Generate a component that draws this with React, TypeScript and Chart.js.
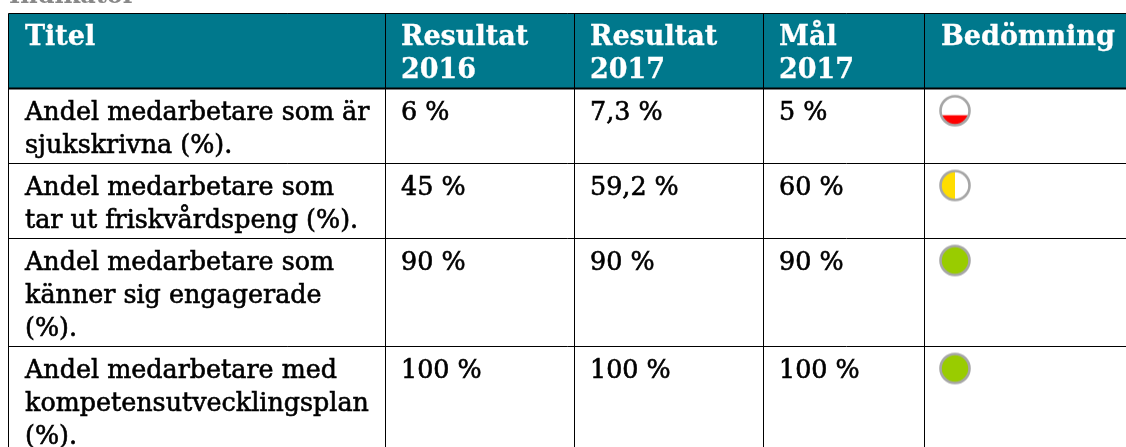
import { useEffect, useRef } from "react";
import { Chart, registerables } from "chart.js";

Chart.register(...registerables);

const caption = "Indikator";
const headers = [["Titel"], ["Resultat", "2016"], ["Resultat", "2017"], ["Mål", "2017"], ["Bedömning"]];
const titles = [
  ["Andel medarbetare som är", "sjukskrivna (%)."],
  ["Andel medarbetare som", "tar ut friskvårdspeng (%)."],
  ["Andel medarbetare som", "känner sig engagerade", "(%)."],
  ["Andel medarbetare med", "kompetensutvecklingsplan", "(%)."],
];
const result2016 = ["6 %", "45 %", "90 %", "100 %"];
const result2017 = ["7,3 %", "59,2 %", "90 %", "100 %"];
const goal2017 = ["5 %", "60 %", "90 %", "100 %"];
const ratings = ["red", "yellow", "green", "green"];

const columnEdges = [8.5, 385.5, 574.5, 763.5, 924.5];
const rowEdges = [13.5, 88.5, 163.5, 238.5, 346.5];
const textX = [25, 401, 590, 779, 941];
const firstBaselines = [119.5, 194.5, 269.5, 377.5];
const circleCentres = [110.7, 185.5, 260.5, 368.5];
const circleX = 955;
const headerBaseline = 45;
const lineHeight = 33;
const headFont = "bold 27px 'DejaVu Serif'";
const captionFont = "bold 24px 'DejaVu Serif'";
const bodyFont = "25.4px 'DejaVu Serif'";
const pageWidth = 1126;
const pageHeight = 447;

function marker(kind: string) {
  const c = document.createElement("canvas");
  c.width = 34;
  c.height = 34;
  const g = c.getContext("2d")!;
  const r = 14.5;
  const m = 17;
  g.beginPath();
  g.arc(m, m, r, 0, Math.PI * 2);
  g.fillStyle = kind === "green" ? "#99cc00" : "#ffffff";
  g.fill();
  g.save();
  g.clip();
  if (kind === "red") {
    g.fillStyle = "#ff0000";
    g.fillRect(0, m + 4.5, 34, 20);
  }
  if (kind === "yellow") {
    g.fillStyle = "#ffdd00";
    g.fillRect(0, 0, m, 34);
  }
  g.restore();
  g.beginPath();
  g.arc(m, m, r, 0, Math.PI * 2);
  g.lineWidth = 2.6;
  g.strokeStyle = "#a6a6a6";
  g.stroke();
  return c;
}

const tablePlugin = {
  id: "tableText",
  beforeDatasetsDraw(chart: any) {
    const { ctx, scales } = chart;
    const x = scales.x;
    const y = scales.y;
    ctx.save();
    ctx.fillStyle = "#00788c";
    ctx.fillRect(x.getPixelForValue(columnEdges[0]), y.getPixelForValue(rowEdges[0]), x.getPixelForValue(pageWidth) - x.getPixelForValue(columnEdges[0]), y.getPixelForValue(rowEdges[1]) - y.getPixelForValue(rowEdges[0]));
    ctx.restore();
  },
  afterDatasetsDraw(chart: any) {
    const { ctx, scales } = chart;
    const x = scales.x;
    const y = scales.y;
    ctx.save();
    ctx.textBaseline = "alphabetic";
    ctx.textAlign = "left";
    ctx.strokeStyle = "#000";
    columnEdges.forEach((e) => {
      ctx.lineWidth = 1;
      ctx.beginPath();
      ctx.moveTo(x.getPixelForValue(e), y.getPixelForValue(rowEdges[0]));
      ctx.lineTo(x.getPixelForValue(e), y.getPixelForValue(pageHeight));
      ctx.stroke();
    });
    rowEdges.forEach((e, i) => {
      ctx.lineWidth = i === 1 ? 2 : 1;
      ctx.beginPath();
      ctx.moveTo(x.getPixelForValue(columnEdges[0]), y.getPixelForValue(e));
      ctx.lineTo(x.getPixelForValue(pageWidth), y.getPixelForValue(e));
      ctx.stroke();
    });
    ctx.fillStyle = "#888";
    ctx.font = captionFont;
    ctx.fillText(caption, 9, 3);
    ctx.font = headFont;
    ctx.fillStyle = "#ffffff";
    ctx.strokeStyle = "#ffffff";
    ctx.lineWidth = 0.3;
    headers.forEach((lines, c) => {
      lines.forEach((t, i) => {
        ctx.fillText(t, textX[c], headerBaseline + i * lineHeight);
        ctx.strokeText(t, textX[c], headerBaseline + i * lineHeight);
      });
    });
    ctx.fillStyle = "#000000";
    ctx.strokeStyle = "#000000";
    ctx.lineWidth = 0.6;
    ctx.font = bodyFont;
    const put = (t: string, px: number, py: number) => {
      ctx.fillText(t, px, py);
      ctx.strokeText(t, px, py);
    };
    titles.forEach((lines, r) => {
      lines.forEach((t, i) => put(t, textX[0], firstBaselines[r] + i * lineHeight));
      put(result2016[r], textX[1], firstBaselines[r]);
      put(result2017[r], textX[2], firstBaselines[r]);
      put(goal2017[r], textX[3], firstBaselines[r]);
    });
    ctx.restore();
  },
};

export default function App() {
  const ref = useRef<HTMLCanvasElement>(null);
  useEffect(() => {
    document.body.style.margin = "0";
    document.body.style.background = "#fff";
    const chart = new Chart(ref.current!, {
      type: "scatter",
      data: {
        datasets: [
          {
            label: "Bedömning",
            data: ratings.map((_, i) => ({ x: circleX, y: circleCentres[i] })),
            pointStyle: ratings.map(marker) as any,
            pointRadius: 17,
            clip: false,
          },
        ],
      },
      options: {
        animation: false,
        responsive: false,
        layout: { padding: 0, autoPadding: false },
        plugins: { legend: { display: false }, tooltip: { enabled: false }, title: { display: false } },
        scales: {
          x: { type: "linear", min: 0, max: pageWidth, display: false },
          y: { type: "linear", min: 0, max: pageHeight, reverse: true, display: false },
        },
      },
      plugins: [tablePlugin],
    });
    return () => chart.destroy();
  }, []);
  return <canvas ref={ref} width={pageWidth} height={pageHeight} style={{ display: "block" }} />;
}
